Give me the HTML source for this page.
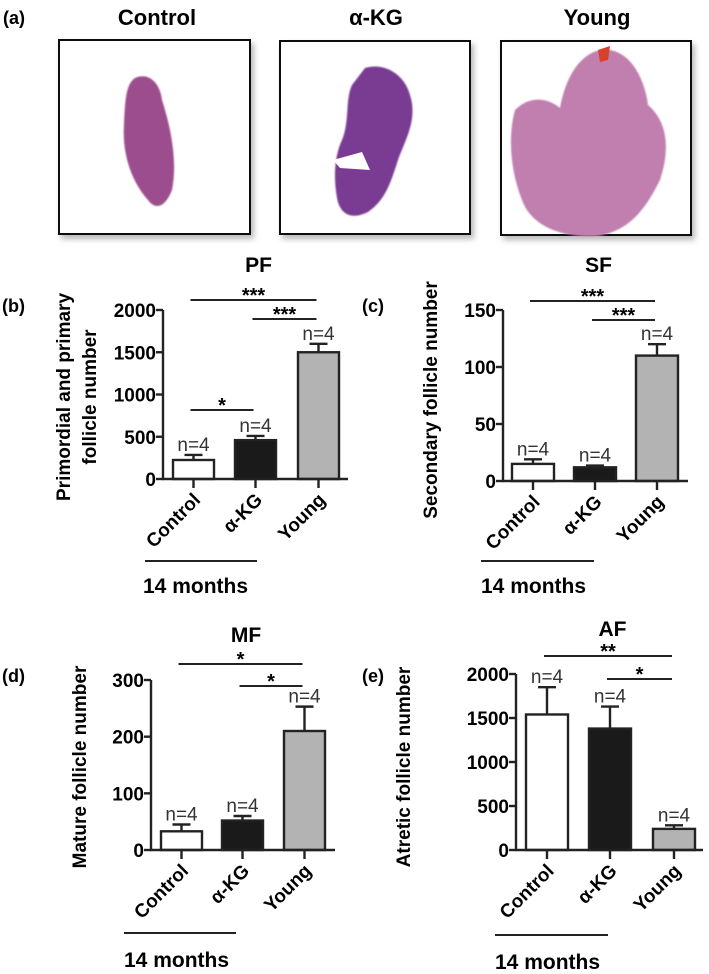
<!DOCTYPE html>
<html><head><meta charset="utf-8"><style>
body{margin:0;background:#fff;}
svg{display:block;font-family:"Liberation Sans",Arial,sans-serif;}
</style></head><body>
<svg id="fig" width="709" height="974" viewBox="0 0 709 974">
<defs>
<filter id="sh" x="-10%" y="-10%" width="130%" height="130%"><feDropShadow dx="3" dy="4" stdDeviation="3" flood-color="#888" flood-opacity="0.6"/></filter>
<filter id="bl"><feGaussianBlur stdDeviation="0.8"/></filter>
</defs>
<g>
<text x="3" y="24" font-size="18" font-weight="bold">(a)</text>
<text x="157" y="25" font-size="22" font-weight="bold" text-anchor="middle">Control</text>
<text x="376" y="25" font-size="22" font-weight="bold" text-anchor="middle">α-KG</text>
<text x="597" y="25" font-size="22" font-weight="bold" text-anchor="middle">Young</text>
<rect x="59" y="40" width="191" height="194" fill="#fff" stroke="#111" stroke-width="2" filter="url(#sh)"/>
<rect x="280" y="41" width="190" height="193" fill="#fff" stroke="#111" stroke-width="2" filter="url(#sh)"/>
<rect x="501" y="41" width="190" height="194" fill="#fff" stroke="#111" stroke-width="2" filter="url(#sh)"/>
<path d="M135,78 C148,72 160,82 162,100 C170,125 178,160 172,190 C165,208 155,210 148,200 C132,182 122,155 124,125 C125,100 126,84 135,78Z" fill="#9c4d8e" filter="url(#bl)"/>
<path d="M365,68 C385,62 405,75 410,95 C418,120 405,140 398,160 C390,185 385,200 368,212 C352,220 340,215 337,198 C333,175 335,155 342,140 C350,120 345,100 352,85 Z" fill="#7a3b93" filter="url(#bl)"/>
<path d="M333,160 L362,152 L370,170 L340,168Z" fill="#fff"/>
<path d="M515,110 C530,95 548,98 560,108 C565,80 578,55 600,50 C630,46 645,80 648,105 C668,122 670,150 660,180 C645,210 630,230 598,236 C565,238 532,228 522,200 C510,170 508,135 515,110Z" fill="#c07fae" filter="url(#bl)"/>
<path d="M598,50 L610,46 L608,60 L600,62Z" fill="#d9402a"/>
</g>
<g id="charts"></g>
</svg>
<script>
// Data
const categories = ["Control", "α-KG", "Young"];
const pfValues = [225, 460, 1500];
const pfErrors = [60, 50, 100];
const sfValues = [15, 12, 110];
const sfErrors = [4, 1.5, 10];
const mfValues = [33, 52, 210];
const mfErrors = [12, 8, 43];
const afValues = [1540, 1380, 240];
const afErrors = [310, 250, 40];
const pfTicks = [0, 500, 1000, 1500, 2000];
const sfTicks = [0, 50, 100, 150];
const mfTicks = [0, 100, 200, 300];
const afTicks = [0, 500, 1000, 1500, 2000];
const nLabels = ["n=4", "n=4", "n=4"];

const NS = "http://www.w3.org/2000/svg";
const root = document.getElementById("charts");
function mk(tag, attrs, parent, text) {
  const e = document.createElementNS(NS, tag);
  for (const k in attrs) e.setAttribute(k, attrs[k]);
  if (text !== undefined) e.textContent = text;
  parent.appendChild(e);
  return e;
}
const fills = ["#ffffff", "#1a1a1a", "#b3b3b3"];
const panels = [
  {id:"pf", label:"(b)", title:"PF", values:pfValues, errors:pfErrors, ticks:pfTicks, max:2000,
   ax:163, y0:479, yTop:310, xEnd:348, bx:[173,235,298], bw:41, lx:2, ly:312,
   ytitle:["Primordial and primary","follicle number"], ytx:[70,96], yty:397,
   sig:[{a:0,b:2,y:300,t:"***"},{a:1,b:2,y:319,t:"***"},{a:0,b:1,y:410,t:"*"}],
   month:{x1:145,x2:257,y:561,ty:593,tx:143}},
  {id:"sf", label:"(c)", title:"SF", values:sfValues, errors:sfErrors, ticks:sfTicks, max:150,
   ax:503, y0:481, yTop:310, xEnd:688, bx:[512,574,636], bw:42, lx:362, ly:312,
   ytitle:["Secondary follicle number"], ytx:[437], yty:400,
   sig:[{a:0,b:2,y:301,t:"***"},{a:1,b:2,y:320,t:"***"}],
   month:{x1:481,x2:594,y:561,ty:593,tx:481}},
  {id:"mf", label:"(d)", title:"MF", values:mfValues, errors:mfErrors, ticks:mfTicks, max:300,
   ax:151, y0:850, yTop:680, xEnd:335, bx:[161,222,284], bw:41, lx:2, ly:682,
   ytitle:["Mature follicle number"], ytx:[86], yty:767,
   sig:[{a:0,b:2,y:664,t:"*"},{a:1,b:2,y:686,t:"*"}],
   month:{x1:124,x2:236,y:933,ty:967,tx:124}},
  {id:"af", label:"(e)", title:"AF", values:afValues, errors:afErrors, ticks:afTicks, max:2000,
   ax:516, y0:850, yTop:674, xEnd:703, bx:[526,589,653], bw:42, lx:362, ly:682,
   ytitle:["Atretic follicle number"], ytx:[410], yty:767,
   sig:[{a:0,b:2,y:656,t:"**"},{a:1,b:2,y:679,t:"*"}],
   month:{x1:495,x2:608,y:935,ty:969,tx:495}}
];
panels.forEach(p => {
  const g = mk("g", {}, root);
  
  
  const ys = v => p.y0 - (v / p.max) * (p.y0 - p.yTop);
  const cx = i => p.bx[i] + p.bw / 2;
  const lab = mk("text", {x:p.lx, y:p.ly, "font-size":18, "font-weight":"bold"}, g, p.label);
  
  
  const tt = mk("text", {x:(p.ax + p.xEnd)/2 + 3, y:p.yTop - 38, "font-size":21, "font-weight":"bold", "text-anchor":"middle"}, g, p.title);
  
  
  p.ytitle.forEach((t, k) => {
    const e = mk("text", {x:p.ytx[k], y:p.yty, "font-size":19, "font-weight":"bold", "text-anchor":"middle", transform:`rotate(-90 ${p.ytx[k]} ${p.yty})`}, g, t);
    
    
  });
  p.values.forEach((v, i) => {
    const top = ys(v + p.errors[i]);
    const er = mk("path", {d:`M${cx(i)},${ys(v)} V${top} M${cx(i)-9},${top} H${cx(i)+9}`, stroke:"#222", "stroke-width":2.4, fill:"none"}, g);
    
    
    const r = mk("rect", {x:p.bx[i], y:ys(v), width:p.bw, height:p.y0 - ys(v), fill:fills[i], stroke:"#222", "stroke-width":2.4}, g);
    
    
    const n = mk("text", {x:cx(i), y:top - 4, "font-size":19, "text-anchor":"middle", fill:"#333"}, g, nLabels[i]);
    
    
    const tk = mk("line", {x1:cx(i), x2:cx(i), y1:p.y0, y2:p.y0 + 9, stroke:"#222", "stroke-width":2.4}, g);
    
    
    const xl = mk("text", {x:cx(i) + 8, y:p.y0 + 22, "font-size":19, "font-weight":"bold", "text-anchor":"end", transform:`rotate(-45 ${cx(i)+8} ${p.y0+22})`}, g, categories[i]);
    
    
  });
  const ax = mk("path", {d:`M${p.ax},${p.yTop} V${p.y0} H${p.xEnd}`, stroke:"#222", "stroke-width":2.4, fill:"none"}, g);
  
  
  p.ticks.forEach(t => {
    const l = mk("line", {x1:p.ax - 7, x2:p.ax, y1:ys(t), y2:ys(t), stroke:"#222", "stroke-width":2.4}, g);
    
    
    const e = mk("text", {x:p.ax - 7, y:ys(t) + 7, "font-size":19, "font-weight":"bold", "text-anchor":"end"}, g, t);
    
    
  });
  p.sig.forEach((s, k) => {
    const x1 = cx(s.a) - 3, x2 = cx(s.b) - 2;
    const l = mk("line", {x1:x1, x2:x2, y1:s.y, y2:s.y, stroke:"#222", "stroke-width":2}, g);
    
    
    const e = mk("text", {x:(x1 + x2)/2, y:s.y + 2, "font-size":20, "font-weight":"bold", "text-anchor":"middle"}, g, s.t);
    
    
  });
  const m = p.month;
  const ml = mk("line", {x1:m.x1, x2:m.x2, y1:m.y, y2:m.y, stroke:"#222", "stroke-width":2}, g);
  
  
  const mt = mk("text", {x:m.tx, y:m.ty, "font-size":21, "font-weight":"bold"}, g, "14 months");
  
  
});
</script>
</body></html>
